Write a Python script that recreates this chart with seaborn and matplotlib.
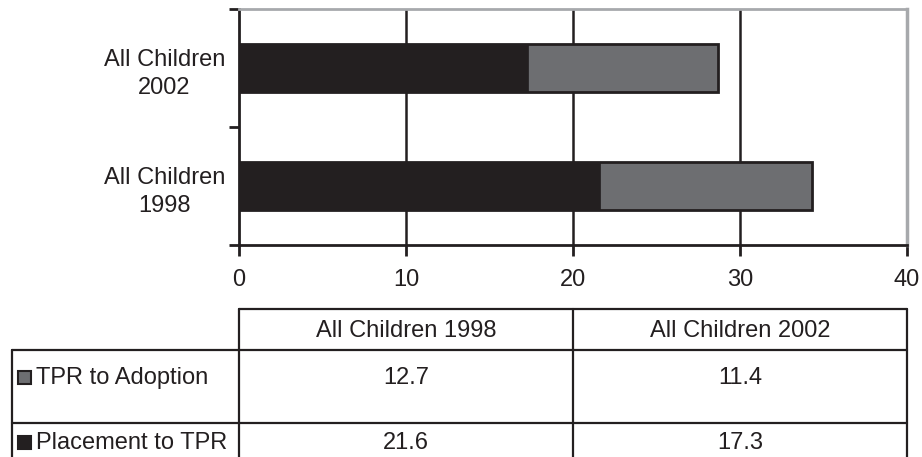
import matplotlib
matplotlib.use("Agg")
import matplotlib.pyplot as plt
from matplotlib.patches import Rectangle
from matplotlib.ticker import FixedLocator
import seaborn as sns
import pandas as pd

# Months from removal to adoption, split into two stages
groups = ["All Children 1998", "All Children 2002"]
placement_to_tpr = [21.6, 17.3]
tpr_to_adoption = [12.7, 11.4]
series_names = ["TPR to Adoption", "Placement to TPR"]
x_ticks = [0, 10, 20, 30, 40]

DARK = "#231f20"
GREY = "#6d6e71"
SPINE_GREY = "#a7a9ac"

sns.set_theme(style="white")
plt.rcParams["font.family"] = ["Liberation Sans", "DejaVu Sans"]
FS = 17

df = pd.DataFrame({
    "group": groups,
    "placement": placement_to_tpr,
    "tpr": tpr_to_adoption,
})
df["total"] = df["placement"] + df["tpr"]
order = ["All Children 2002", "All Children 1998"]

W, H = 922, 457
fig = plt.figure(figsize=(W / 100, H / 100), dpi=100)

def fx(px):
    return px / W

ax_l, ax_r, ax_t, ax_b = 239, 907, 9, 245
ax = fig.add_axes([fx(ax_l), 1 - ax_b / H, fx(ax_r - ax_l), (ax_b - ax_t) / H])

# stacked bars: total length in grey, first stage in black on top
sns.barplot(data=df, y="group", x="total", order=order, orient="h",
            color=GREY, saturation=1, width=0.41, edgecolor=DARK,
            linewidth=2, ax=ax, zorder=2)
sns.barplot(data=df, y="group", x="placement", order=order, orient="h",
            color=DARK, saturation=1, width=0.41, edgecolor=DARK,
            linewidth=0.5, ax=ax, zorder=3)

ax.set_xlim(0, 40)
ax.set_ylim(1.5, -0.5)
ax.set_xlabel("")
ax.set_ylabel("")
ax.set_xticks(x_ticks)
ax.set_xticklabels([str(t) for t in x_ticks], fontsize=FS, color=DARK)
ax.tick_params(axis="x", direction="out", length=8, width=2, color=DARK,
               pad=9, bottom=True)
ax.set_yticks([0, 1])
ax.set_yticklabels([g.replace(" 1", "\n1").replace(" 2", "\n2") for g in order],
                   fontsize=FS, color=DARK, multialignment="center",
                   linespacing=1.4)
ax.tick_params(axis="y", which="major", length=0, pad=10)
ax.yaxis.set_minor_locator(FixedLocator([-0.5, 0.5, 1.5]))
ax.tick_params(axis="y", which="minor", direction="out", length=7, width=2,
               color=DARK, left=True)

for v in x_ticks[1:-1]:
    ax.axvline(v, color=DARK, lw=1.8, zorder=1)

ax.spines["left"].set_color(DARK)
ax.spines["left"].set_linewidth(2)
ax.spines["bottom"].set_color(DARK)
ax.spines["bottom"].set_linewidth(2)
ax.spines["top"].set_color(SPINE_GREY)
ax.spines["top"].set_linewidth(2)
ax.spines["right"].set_color(SPINE_GREY)
ax.spines["right"].set_linewidth(2.5)

# data table below the chart, columns aligned with the x scale
tab = fig.add_axes([0, 0, 1, 1])
tab.set_xlim(0, W)
tab.set_ylim(H, 0)
tab.axis("off")

def data_px(v):
    disp = ax.transData.transform((v, 0))
    return fig.transFigure.inverted().transform(disp)[0] * W

fig.canvas.draw()
c0, c1, c2 = data_px(0), data_px(20), data_px(40)
left_px = 12
y_top, y_head, y_row, y_end = 309, 350, 423, 470
lw = 1.6
tab.plot([c0, c2], [y_top, y_top], color=DARK, lw=lw)
tab.plot([left_px, c2], [y_head, y_head], color=DARK, lw=lw)
tab.plot([left_px, c2], [y_row, y_row], color=DARK, lw=lw)
for xv in (c0, c1, c2):
    tab.plot([xv, xv], [y_top, y_end], color=DARK, lw=lw)
tab.plot([left_px, left_px], [y_head, y_end], color=DARK, lw=lw)

col_centers = [(c0 + c1) / 2, (c1 + c2) / 2]
for cx, g in zip(col_centers, groups):
    tab.text(cx, 331, g, ha="center", va="center", fontsize=FS, color=DARK)

row_y = [378, 443]
row_values = [tpr_to_adoption, placement_to_tpr]
row_colors = [GREY, DARK]
for ry, name, vals, col in zip(row_y, series_names, row_values, row_colors):
    tab.add_patch(Rectangle((18, ry - 7), 13, 13, facecolor=col,
                            edgecolor=DARK, lw=1.5))
    tab.text(36, ry, name, ha="left", va="center", fontsize=FS, color=DARK)
    for cx, v in zip(col_centers, vals):
        tab.text(cx, ry, f"{v:.1f}", ha="center", va="center",
                 fontsize=FS, color=DARK)

fig.savefig("out.png", dpi=100)
